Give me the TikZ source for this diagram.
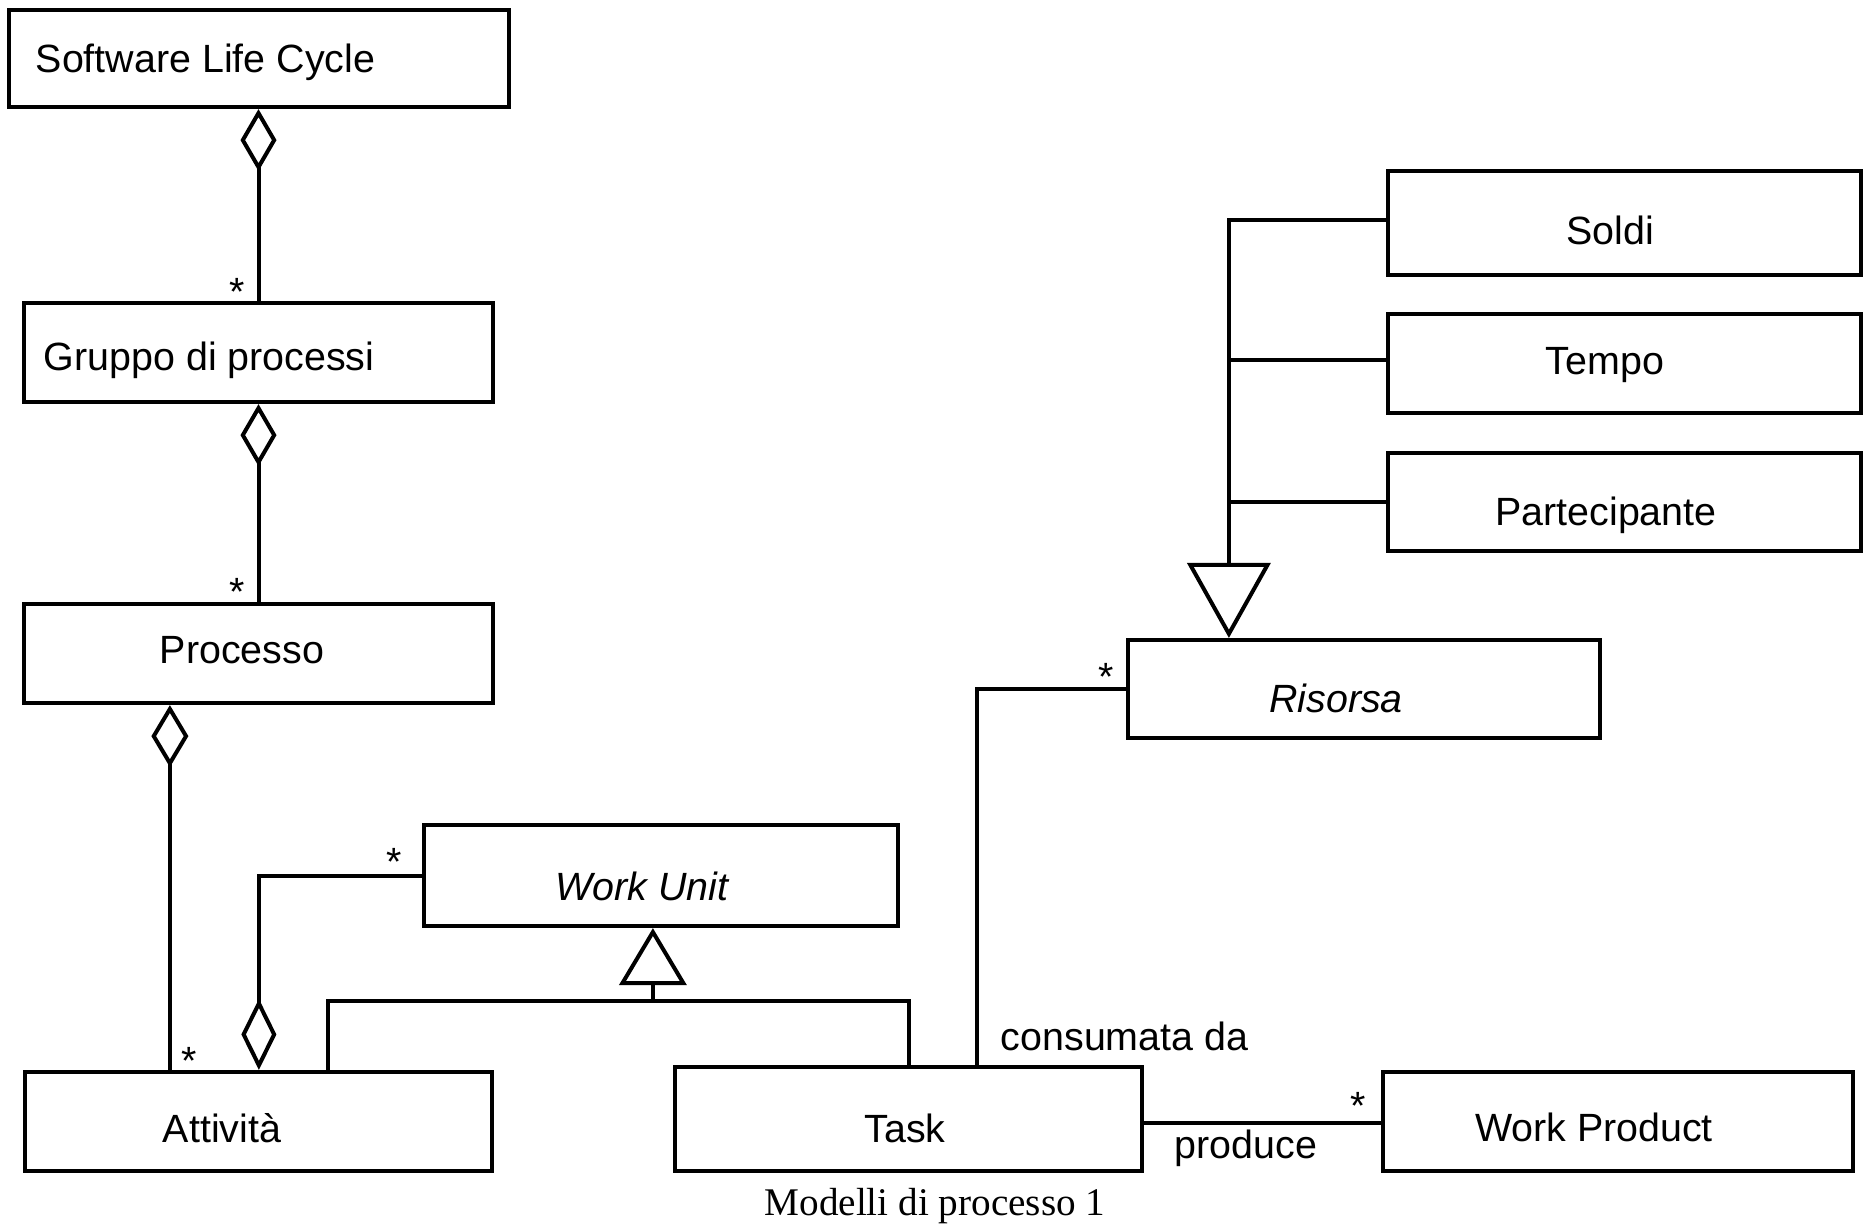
\documentclass[tikz,border=0pt]{standalone}
\usepackage{fontspec}
\setmainfont{Liberation Sans}
\newfontfamily\captionserif{Liberation Serif}
\usetikzlibrary{arrows.meta,calc,fit}

\begin{document}
\begin{tikzpicture}[x=0.25pt,y=-0.25pt,
  box/.style={draw, line width=1.05pt, rectangle, inner sep=0pt},
  lbl/.style={inner sep=0pt, anchor=base, font=\fontsize{9.85}{11}\selectfont},
  mult/.style={inner sep=0pt, anchor=base, font=\fontsize{9.85}{11}\selectfont},
  conn/.style={line width=1pt},
  agg/.style 2 args={conn, {Diamond[open, length=#1, width=#2]}-},
  gen/.style 2 args={conn, -{Triangle[open, length=#1, width=#2]}}
]
\useasboundingbox (0,0) rectangle (1863,1225);

% class boxes
\node[box, fit={(9,10)(509,107)}] (slc) {};
\node[box, fit={(24,303)(493,402)}] (gdp) {};
\node[box, fit={(24,604)(493,703)}] (proc) {};
\node[box, fit={(25,1072)(492,1171)}] (att) {};
\node[box, fit={(424,825)(898,926)}] (wu) {};
\node[box, fit={(675,1067)(1142,1171)}] (task) {};
\node[box, fit={(1383,1072)(1853,1171)}] (wp) {};
\node[box, fit={(1128,640)(1600,738)}] (ris) {};
\node[box, fit={(1388,171)(1861,275)}] (soldi) {};
\node[box, fit={(1388,314)(1861,413)}] (tempo) {};
\node[box, fit={(1388,453)(1861,551)}] (part) {};

% class names
\node[lbl, anchor=base west] (slcT) at (35,72) {Software Life Cycle};
\node[lbl, anchor=base west] (gdpT) at (43,370) {Gruppo di processi};
\node[lbl] (procT) at (242,663) {Processo};
\node[lbl] (attT) at (222,1142) {Attività};
\node[lbl] (wuT) at (642,900) {\itshape Work Unit};
\node[lbl] (taskT) at (905,1142) {Task};
\node[lbl] (wpT) at (1594,1141) {Work Product};
\node[lbl] (risT) at (1336,712) {\itshape Risorsa};
\node[lbl] (soldiT) at (1610,244) {Soldi};
\node[lbl] (tempoT) at (1605,374) {Tempo};
\node[lbl] (partT) at (1606,525) {Partecipante};

% aggregations
\draw[agg={15.5pt}{9pt}] (slc.south -| gdp.north) -- (gdp.north);
\draw[agg={15.5pt}{9pt}] (gdp.south) -- (proc.north);
\draw[agg={15.5pt}{9.25pt}] ($(proc.south west)+(148,0)$) -- ($(att.north west)+(147,0)$);
\draw[agg={17.75pt}{8.75pt}] ($(att.north west)+(236,0)$) |- (wu.west);

% generalisation of Work Unit
\coordinate (wuJ) at ($(wu.south west)+(231,73)$);
\draw[conn] ($(att.north west)+(305,0)$) |- (wuJ) -| (task.north);
\draw[gen={14.25pt}{16.75pt}] (wuJ) -- (wuJ |- wu.south);

% generalisation of Risorsa
\coordinate (risJ) at ($(ris.north west)+(103,0)$);
\coordinate (soldiW) at ($(soldi.west)+(0,-3)$);
\coordinate (tempoW) at ($(tempo.west)+(0,-4)$);
\draw[gen={18.75pt}{20.75pt}] (soldiW) -| (risJ);
\draw[conn] (tempoW) -- (tempoW -| risJ);
\draw[conn] (part.west) -- (part.west -| risJ);

% associations
\coordinate (taskE) at ($(task.east)+(0,4)$);
\draw[conn] ($(task.north west)+(304,0)$) |- (ris.west);
\draw[conn] (taskE) -- (taskE -| wp.west);

% association labels
\node[lbl, anchor=base west] (consT) at (1000,1050) {consumata da};
\node[lbl, anchor=base west] (prodT) at (1174,1158) {produce};

% multiplicities
\node[mult] (m1) at (237,305) {*};
\node[mult] (m2) at (237,605) {*};
\node[mult] (m3) at (189,1074) {*};
\node[mult] (m4) at (394,875) {*};
\node[mult] (m5) at (1106,690) {*};
\node[mult] (m6) at (1358,1119) {*};

% caption
\node[inner sep=0pt, anchor=base, font=\captionserif\fontsize{9.8}{11}\selectfont] (cap) at (935,1215) {Modelli di processo 1};
\end{tikzpicture}
\end{document}
